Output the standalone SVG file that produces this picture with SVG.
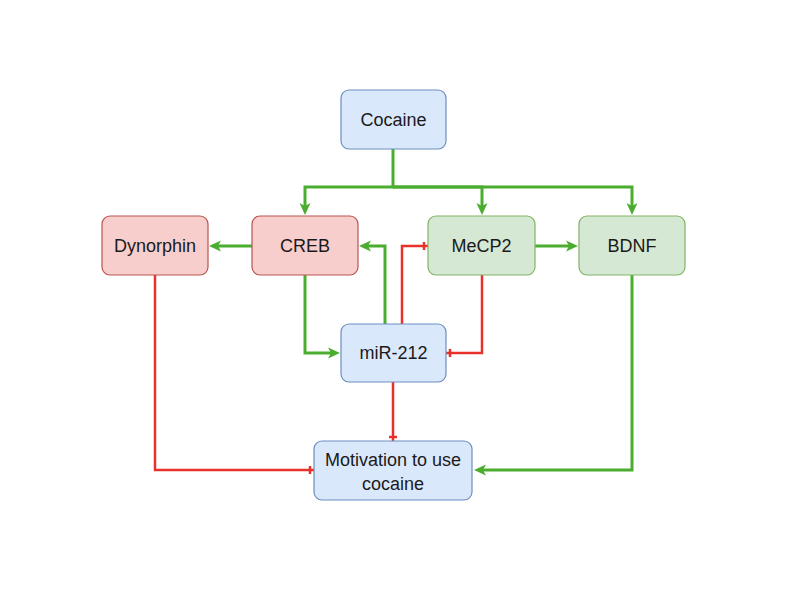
<svg xmlns="http://www.w3.org/2000/svg" width="787" height="598" viewBox="0 0 787 598">
<style>
.box{stroke-width:1.2}
.red{fill:#f8cecc;stroke:#b85450}
.green{fill:#d5e8d4;stroke:#82b366}
.blue{fill:#dae8fc;stroke:#6c8ebf}
text{font-family:"Liberation Sans",Arial,sans-serif;font-size:18px;fill:#1a1a1a;text-anchor:middle}
.act{fill:none;stroke:#4aad2f;stroke-width:3;marker-end:url(#arr)}
.inh{fill:none;stroke:#e8312a;stroke-width:2.5;marker-end:url(#bar)}
</style>
<defs>
<marker id="arr" markerUnits="userSpaceOnUse" viewBox="0 0 12 12" markerWidth="12" markerHeight="12" refX="3" refY="6" orient="auto">
<path d="M0,0.5 L12,6 L0,11.5 L3,6 z" fill="#4aad2f"/>
</marker>
<marker id="bar" markerUnits="userSpaceOnUse" viewBox="0 0 10 10" markerWidth="10" markerHeight="10" refX="9" refY="5" orient="auto">
<path d="M5,1 L5,9" stroke="#e8312a" stroke-width="2.5"/>
</marker>
</defs>
<rect width="787" height="598" fill="#ffffff"/>
<g id="connectors">
<path class="act" d="M393,149 V187 H305 V206"/>
<path class="act" d="M393,187 H482 V206"/>
<path class="act" d="M393,187 H632 V206"/>
<path class="act" d="M252,246 H218"/>
<path class="act" d="M535,246 H569"/>
<path class="act" d="M305,275 V353 H331"/>
<path class="act" d="M385,324 V246 H368"/>
<path class="act" d="M632,275 V470 H483"/>
<path class="inh" d="M402,324 V246 H428"/>
<path class="inh" d="M482,275 V353 H446"/>
<path class="inh" d="M393,382 V441"/>
<path class="inh" d="M155,275 V470 H314"/>
</g>
<g id="cocaine"><rect class="box blue" x="341" y="90" width="105" height="59" rx="8"/><text x="393.5" y="120" dominant-baseline="central">Cocaine</text></g>
<g id="dynorphin"><rect class="box red" x="102" y="216" width="106" height="59" rx="8"/><text x="155" y="246" dominant-baseline="central">Dynorphin</text></g>
<g id="creb"><rect class="box red" x="252" y="216" width="106" height="59" rx="8"/><text x="305" y="246" dominant-baseline="central">CREB</text></g>
<g id="mecp2"><rect class="box green" x="428" y="216" width="107" height="59" rx="8"/><text x="481.5" y="246" dominant-baseline="central">MeCP2</text></g>
<g id="bdnf"><rect class="box green" x="579" y="216" width="106" height="59" rx="8"/><text x="632" y="246" dominant-baseline="central">BDNF</text></g>
<g id="mir212"><rect class="box blue" x="341" y="324" width="105" height="58" rx="8"/><text x="393.5" y="353" dominant-baseline="central">miR-212</text></g>
<g id="motivation"><rect class="box blue" x="314" y="441" width="158" height="59" rx="8"/><text x="393" y="466">Motivation to use</text><text x="393" y="490">cocaine</text></g>
</svg>
